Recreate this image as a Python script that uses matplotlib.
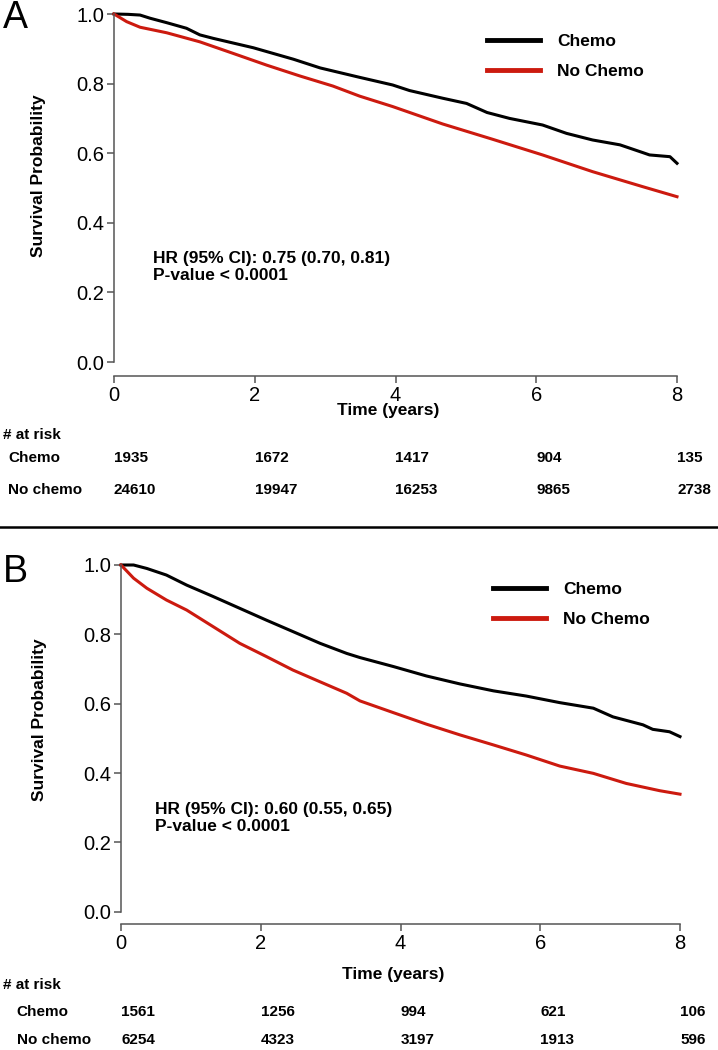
import numpy as np
import matplotlib.pyplot as plt
from matplotlib.transforms import blended_transform_factory

# panel A curves
a_chemo_t = [0, 0.2, 0.37, 0.51, 0.75, 1.03, 1.22, 1.41, 1.98, 2.55, 2.93, 3.49, 3.96, 4.2,
             4.67, 5.01, 5.3, 5.62, 6.09, 6.43, 6.8, 7.19, 7.51, 7.61, 7.9, 8.0]
a_chemo_s = [1.0, 0.999, 0.997, 0.988, 0.975, 0.959, 0.94, 0.93, 0.903, 0.87, 0.845, 0.818, 0.796, 0.78,
             0.758, 0.743, 0.717, 0.70, 0.681, 0.657, 0.638, 0.624, 0.602, 0.595, 0.59, 0.571]
a_nochemo_t = [0, 0.18, 0.37, 0.75, 1.22, 1.69, 2.17, 2.64, 3.11, 3.49, 3.96, 4.67, 5.38, 6.09,
               6.8, 7.51, 8.0]
a_nochemo_s = [1.0, 0.978, 0.962, 0.946, 0.92, 0.887, 0.853, 0.822, 0.793, 0.764, 0.734, 0.684, 0.64,
               0.595, 0.547, 0.504, 0.475]

# panel B curves
b_chemo_t = [0, 0.18, 0.37, 0.65, 0.94, 1.32, 1.7, 2.08, 2.46, 2.85, 3.23, 3.42, 3.9, 4.37, 4.85,
             5.33, 5.8, 6.28, 6.76, 7.04, 7.47, 7.61, 7.85, 8.0]
b_chemo_s = [1.0, 1.0, 0.99, 0.971, 0.942, 0.909, 0.875, 0.841, 0.808, 0.774, 0.745, 0.733, 0.707, 0.68,
             0.657, 0.637, 0.622, 0.603, 0.587, 0.562, 0.539, 0.526, 0.519, 0.505]
b_nochemo_t = [0, 0.18, 0.37, 0.65, 0.94, 1.32, 1.7, 2.08, 2.46, 2.85, 3.23, 3.42, 3.9, 4.37, 4.85,
               5.33, 5.8, 6.28, 6.76, 7.23, 7.71, 8.0]
b_nochemo_s = [1.0, 0.962, 0.933, 0.899, 0.87, 0.822, 0.774, 0.736, 0.697, 0.663, 0.63, 0.608, 0.574,
               0.541, 0.51, 0.481, 0.452, 0.42, 0.399, 0.37, 0.349, 0.339]

# numbers at risk
risk_times = [0, 2, 4, 6, 8]
a_risk_chemo = [1935, 1672, 1417, 904, 135]
a_risk_nochemo = [24610, 19947, 16253, 9865, 2738]
b_risk_chemo = [1561, 1256, 994, 621, 106]
b_risk_nochemo = [6254, 4323, 3197, 1913, 596]

RED = '#cc1a0f'
AXC = '#555555'
W, H = 718, 1050

fig = plt.figure(figsize=(7.18, 10.5), dpi=100)
plt.rcParams['font.family'] = ['Liberation Sans', 'DejaVu Sans']
TBL = 11


def fy(py):
    return 1 - py / H


def panel(box, offset_px, t1, s1, t2, s2, hr, hr_pos, leg_pos, ylab_pos, xlab_pos,
          letter, letter_y, rows_y, r1, r2, label_x):
    ax = fig.add_axes(box)
    ax.plot(t1, s1, color='black', lw=2.2, clip_on=False, label='Chemo')
    ax.plot(t2, s2, color=RED, lw=2.2, clip_on=False, label='No Chemo')
    ax.set_xlim(0, 8)
    ax.set_ylim(0, 1)
    for s in ['top', 'right']:
        ax.spines[s].set_visible(False)
    for s in ['left', 'bottom']:
        ax.spines[s].set_color(AXC)
        ax.spines[s].set_linewidth(1.1)
    ax.spines['bottom'].set_position(('outward', offset_px * 72 / 100))
    ax.set_xticks(risk_times)
    ax.set_yticks([0, 0.2, 0.4, 0.6, 0.8, 1.0])
    ax.set_yticklabels(['0.0', '0.2', '0.4', '0.6', '0.8', '1.0'])
    ax.tick_params(axis='both', color=AXC, length=5, width=1.1, labelsize=14.5, pad=2)
    ax.set_ylabel('Survival Probability', fontsize=12.5, fontweight='bold')
    ax.yaxis.set_label_coords(*ylab_pos)
    ax.set_xlabel('Time (years)', fontsize=12.5, fontweight='bold')
    ax.xaxis.set_label_coords(*xlab_pos)
    ax.text(hr_pos[0], hr_pos[1], hr, transform=ax.transAxes, fontsize=12.5,
            fontweight='bold', va='center', linespacing=1.15)
    leg = ax.legend(loc='upper left', bbox_to_anchor=leg_pos, frameon=False,
                    prop={'size': 12.5, 'weight': 'bold'}, handlelength=3.05,
                    handletextpad=1.0, labelspacing=0.85, borderpad=0, borderaxespad=0)
    for ln in leg.get_lines():
        ln.set_linewidth(3.5)
    fig.text(0.004, fy(letter_y), letter, fontsize=27, va='center', ha='left')
    # risk table
    tr = blended_transform_factory(ax.transData, fig.transFigure)
    fig.text(0.004, fy(rows_y[0]), '# at risk', fontsize=TBL, fontweight='bold', va='center')
    fig.text(label_x, fy(rows_y[1]), 'Chemo', fontsize=TBL, fontweight='bold', va='center')
    fig.text(label_x, fy(rows_y[2]), 'No chemo', fontsize=TBL, fontweight='bold', va='center')
    for t, a, b in zip(risk_times, r1, r2):
        ax.text(t, fy(rows_y[1]), str(a), transform=tr, fontsize=TBL, fontweight='bold',
                va='center', ha='left')
        ax.text(t, fy(rows_y[2]), str(b), transform=tr, fontsize=TBL, fontweight='bold',
                va='center', ha='left')
    return ax


panel([114 / W, fy(362), 563 / W, 348 / H], 14,
      a_chemo_t, a_chemo_s, a_nochemo_t, a_nochemo_s,
      'HR (95% CI): 0.75 (0.70, 0.81)\nP-value < 0.0001', (0.069, 0.273),
      (0.6625, 0.942), (-0.121, 0.534), (0.487, -0.118),
      'A', 18, (435, 458, 490), a_risk_chemo, a_risk_nochemo, 0.011)

panel([121 / W, fy(911.7), 559 / W, 346.7 / H], 12.3,
      b_chemo_t, b_chemo_s, b_nochemo_t, b_nochemo_s,
      'HR (95% CI): 0.60 (0.55, 0.65)\nP-value < 0.0001', (0.061, 0.270),
      (0.6655, 0.952), (-0.132, 0.553), (0.487, -0.16),
      'B', 572, (985, 1012, 1040), b_risk_chemo, b_risk_nochemo, 0.023)

# separator between panels
fig.add_artist(plt.Line2D([0, 1], [fy(527), fy(527)], color='black', lw=1.8))

fig.savefig('out.png', dpi=100)
